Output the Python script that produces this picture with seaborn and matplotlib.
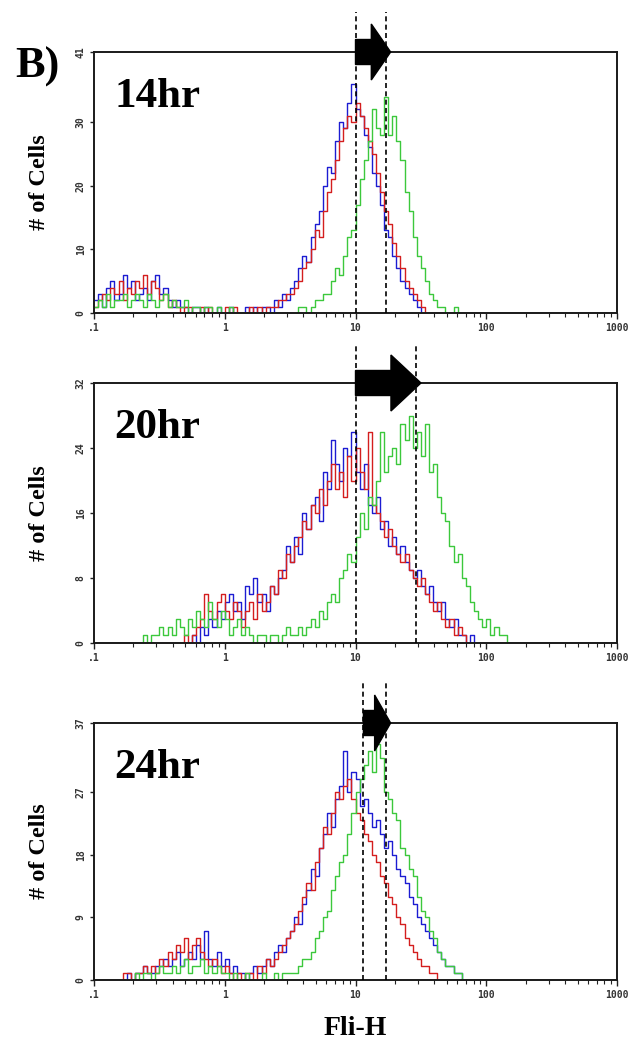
import numpy as np
import pandas as pd
import seaborn as sns
import matplotlib.pyplot as plt
from matplotlib.patches import Polygon
from matplotlib.ticker import FixedLocator, LogLocator, NullFormatter

# Histogramas de citometria (Fli-H), 32 canais por década, de 0.1 a 1000
N_CH = 128
PER_DEC = 32

times = ['14hr', '20hr', '24hr']
y_tops = [41, 32, 37]
y_ticks = [[0, 10, 20, 30, 41], [0, 8, 16, 24, 32], [0, 9, 18, 27, 37]]
gates = [(10, 17), (10, 29), (11.5, 17)]
x_ticks = [0.1, 1, 10, 100, 1000]
x_ticklabels = ['.1', '1', '10', '100', '1000']

# 14hr  (canal inicial, contagens)
blue_14_start = 0
blue_14 = [2, 3, 1, 4, 5, 2, 3, 6, 4, 5,
           2, 3, 4, 2, 5, 6, 3, 4, 2, 1,
           2, 1, 1, 0, 1, 1, 0, 1, 0, 0,
           1, 0, 0, 1, 0, 0, 0, 1, 0, 1,
           0, 1, 1, 0, 2, 1, 3, 2, 4, 5,
           7, 9, 8, 12, 14, 16, 20, 23, 22, 27,
           30, 29, 33, 36, 32, 31, 28, 26, 22, 20,
           17, 13, 12, 9, 7, 5, 4, 3, 2, 1, 0]
red_14_start = 0
red_14 = [1, 2, 3, 2, 4, 3, 5, 2, 4, 3,
          5, 4, 6, 3, 5, 4, 2, 3, 1, 2,
          1, 0, 1, 1, 0, 0, 1, 0, 1, 0,
          0, 0, 1, 0, 1, 0, 0, 0, 1, 0,
          1, 0, 1, 1, 1, 2, 2, 3, 3, 4,
          5, 7, 8, 10, 13, 12, 16, 19, 21, 24,
          27, 29, 31, 30, 33, 31, 29, 27, 25, 22,
          19, 16, 14, 11, 9, 7, 5, 4, 3, 2, 1, 0]
green_14_start = 0
green_14 = [1, 2, 1, 3, 1, 2, 2, 3, 1, 2,
            3, 2, 1, 3, 2, 1, 2, 3, 1, 2,
            1, 1, 2, 0, 1, 1, 0, 1, 1, 0,
            1, 0, 0, 1, 0, 0, 0, 0, 0, 0,
            0, 0, 0, 0, 0, 0, 0, 0, 0, 0,
            1, 1, 0, 1, 2, 2, 3, 3, 5, 7,
            6, 9, 12, 13, 17, 21, 24, 27, 32, 29,
            28, 34, 28, 31, 27, 24, 19, 16, 12, 9,
            7, 5, 3, 2, 1, 1, 0, 0, 1, 0]

# 20hr
blue_20_start = 24
blue_20 = [1, 0, 2, 1, 3, 2, 4, 3, 5, 6,
           4, 5, 3, 7, 6, 8, 5, 6, 4, 7,
           6, 8, 9, 12, 10, 13, 11, 16, 14, 17,
           18, 15, 21, 19, 25, 22, 20, 24, 23, 26,
           21, 19, 22, 17, 16, 18, 14, 15, 12, 13,
           11, 12, 10, 9, 8, 9, 7, 6, 7, 5,
           4, 5, 3, 2, 3, 1, 1, 0, 1, 0]
red_20_start = 22
red_20 = [1, 0, 1, 2, 3, 6, 4, 3, 5, 6,
          4, 3, 5, 4, 2, 4, 5, 3, 6, 4,
          5, 7, 6, 9, 8, 11, 10, 12, 13, 15,
          14, 17, 16, 19, 17, 20, 22, 19, 21, 18,
          23, 20, 24, 21, 19, 26, 17, 16, 15, 13,
          14, 12, 11, 10, 11, 9, 8, 7, 8, 6,
          5, 4, 5, 3, 2, 3, 1, 2, 1, 0]
green_20_start = 12
green_20 = [1, 0, 1, 1, 2, 1, 2, 1, 3, 2,
            1, 3, 2, 4, 3, 2, 5, 3, 2, 4,
            3, 1, 2, 3, 1, 2, 1, 0, 1, 1,
            0, 1, 1, 0, 1, 2, 1, 1, 2, 1,
            2, 3, 2, 4, 3, 5, 6, 5, 8, 9,
            11, 10, 13, 16, 14, 18, 17, 20, 26, 21,
            23, 24, 22, 27, 25, 28, 24, 26, 23, 27,
            21, 22, 18, 16, 15, 12, 10, 11, 8, 7,
            5, 4, 3, 2, 3, 1, 2, 1, 1, 0]

# 24hr
blue_24_start = 8
blue_24 = [1, 0, 1, 1, 2, 1, 1, 2, 2, 3,
           2, 3, 4, 2, 3, 4, 3, 5, 3, 7,
           3, 2, 4, 2, 3, 1, 2, 1, 1, 0,
           1, 2, 1, 2, 3, 2, 4, 5, 4, 6,
           7, 9, 8, 11, 13, 16, 15, 19, 21, 24,
           22, 26, 28, 33, 27, 30, 29, 25, 26, 24,
           22, 23, 21, 19, 20, 18, 16, 15, 14, 12,
           11, 9, 8, 7, 6, 5, 4, 3, 2, 2, 1, 1, 0]
red_24_start = 7
red_24 = [1, 1, 0, 1, 1, 2, 1, 2, 1, 3,
          2, 4, 3, 5, 4, 6, 3, 5, 6, 4,
          3, 2, 3, 2, 1, 2, 1, 0, 1, 0,
          1, 1, 0, 2, 1, 3, 2, 3, 4, 5,
          6, 7, 8, 10, 12, 14, 13, 17, 19, 22,
          21, 24, 27, 26, 28, 29, 26, 24, 23, 21,
          20, 18, 17, 15, 14, 12, 11, 9, 8, 6,
          5, 4, 3, 2, 2, 1, 1, 0]
green_24_start = 10
green_24 = [1, 0, 1, 1, 0, 1, 2, 1, 1, 2,
            1, 2, 3, 1, 2, 2, 3, 1, 2, 1,
            2, 1, 1, 0, 1, 0, 0, 1, 0, 0,
            0, 1, 0, 0, 1, 0, 1, 1, 1, 1,
            2, 3, 3, 4, 6, 7, 9, 10, 13, 15,
            17, 18, 21, 24, 27, 29, 31, 33, 30, 34,
            32, 27, 26, 24, 23, 19, 18, 16, 15, 12,
            10, 9, 7, 6, 4, 3, 2, 2, 1, 1, 0]

series = [
    [('blue', blue_14_start, blue_14), ('red', red_14_start, red_14), ('green', green_14_start, green_14)],
    [('blue', blue_20_start, blue_20), ('red', red_20_start, red_20), ('green', green_20_start, green_20)],
    [('blue', blue_24_start, blue_24), ('red', red_24_start, red_24), ('green', green_24_start, green_24)],
]
palette = {'blue': '#1c1cd2', 'red': '#d41e1e', 'green': '#3cc83c'}


def channel_frame(start, counts, name):
    c = np.zeros(N_CH)
    c[start:start + len(counts)] = counts
    edges = 0.1 * 10 ** (np.arange(N_CH + 1) / PER_DEC)
    c = np.append(c, c[-1])
    return pd.DataFrame({'fl': edges, 'count': c, 'sample': name})


sns.set_theme(style='white')
plt.rcParams['font.family'] = ['Liberation Serif', 'DejaVu Serif']
plt.rcParams['text.color'] = 'black'
plt.rcParams['axes.labelcolor'] = 'black'

fig = plt.figure(figsize=(6.31, 10.51), dpi=100)
W, H = 631, 1051
# caixas em pixels: esquerda, topo, base
boxes = [(94, 52, 313), (94, 383, 643), (94, 723, 980)]
ax_w = 523

tick_font = dict(family='DejaVu Sans Mono', weight='bold', size=7)

for i, (left, top, bottom) in enumerate(boxes):
    ax_h = bottom - top
    ax = fig.add_axes([left / W, 1 - bottom / H, ax_w / W, ax_h / H])
    df = pd.concat([channel_frame(s, c, n) for n, s, c in series[i]])
    sns.lineplot(data=df, x='fl', y='count', hue='sample', palette=palette,
                 hue_order=['blue', 'red', 'green'], estimator=None,
                 drawstyle='steps-post', linewidth=1.0, legend=False, ax=ax)
    ax.set_xscale('log')
    ax.set_xlim(0.1, 1000)
    ax.set_ylim(0, y_tops[i])

    ax.xaxis.set_major_locator(FixedLocator(x_ticks))
    ax.set_xticklabels(x_ticklabels, fontdict=tick_font, color='#333333')
    ax.xaxis.set_minor_locator(LogLocator(base=10, subs=np.arange(2, 10)))
    ax.xaxis.set_minor_formatter(NullFormatter())
    ax.set_yticks(y_ticks[i])
    ax.set_yticklabels([str(v) for v in y_ticks[i]], fontdict=tick_font,
                       color='#333333', rotation=90, va='center')
    ax.tick_params(axis='x', which='major', direction='out', length=4, width=1,
                   pad=3, bottom=True, colors='#222222', labelcolor='#333333')
    ax.tick_params(axis='x', which='minor', direction='out', length=3, width=0.8,
                   bottom=True, colors='#222222')
    ax.tick_params(axis='y', direction='out', length=3, width=1, pad=3,
                   left=True, colors='#222222', labelcolor='#333333')
    for sp in ax.spines.values():
        sp.set_color('#1a1a1a')
        sp.set_linewidth(1.4)
        sp.set_visible(True)

    ax.set_xlabel('')
    ax.set_ylabel('# of Cells', fontsize=17.5, fontweight='bold')
    ax.yaxis.set_label_coords(-44 / ax_w, 0.5)

    ax.text(20 / ax_w, 1 - 55 / ax_h, times[i], transform=ax.transAxes,
            fontsize=31, fontweight='bold', va='baseline', ha='left')

    # linhas do gate
    g1, g2 = gates[i]
    for g in (g1, g2):
        ax.axvline(g, ymin=0, ymax=1 + 40 / ax_h, color='black', lw=1.2,
                   ls=(0, (3, 2)), clip_on=False, zorder=4)

    # seta entre os gates
    x0 = (np.log10(g1) + 1) / 4
    x1 = (np.log10(g2) + 1) / 4 + 5 / ax_w
    L = (x1 - x0) * ax_w
    head = min(30, max(16, 0.55 * L)) / ax_w
    bh, hh = 12.5 / ax_h, 28 / ax_h
    pts = [(x0, 1 - bh), (x1 - head, 1 - bh), (x1 - head, 1 - hh), (x1, 1),
           (x1 - head, 1 + hh), (x1 - head, 1 + bh), (x0, 1 + bh)]
    ax.add_patch(Polygon(pts, closed=True, transform=ax.transAxes,
                         clip_on=False, color='black', zorder=6))

    if i == 2:
        ax.set_xlabel('Fli-H', fontsize=20, fontweight='bold', labelpad=12)

fig.text(15 / W, 1 - 78 / H, 'B)', fontsize=32, fontweight='bold',
         ha='left', va='baseline')

fig.savefig('out.png', dpi=100)
